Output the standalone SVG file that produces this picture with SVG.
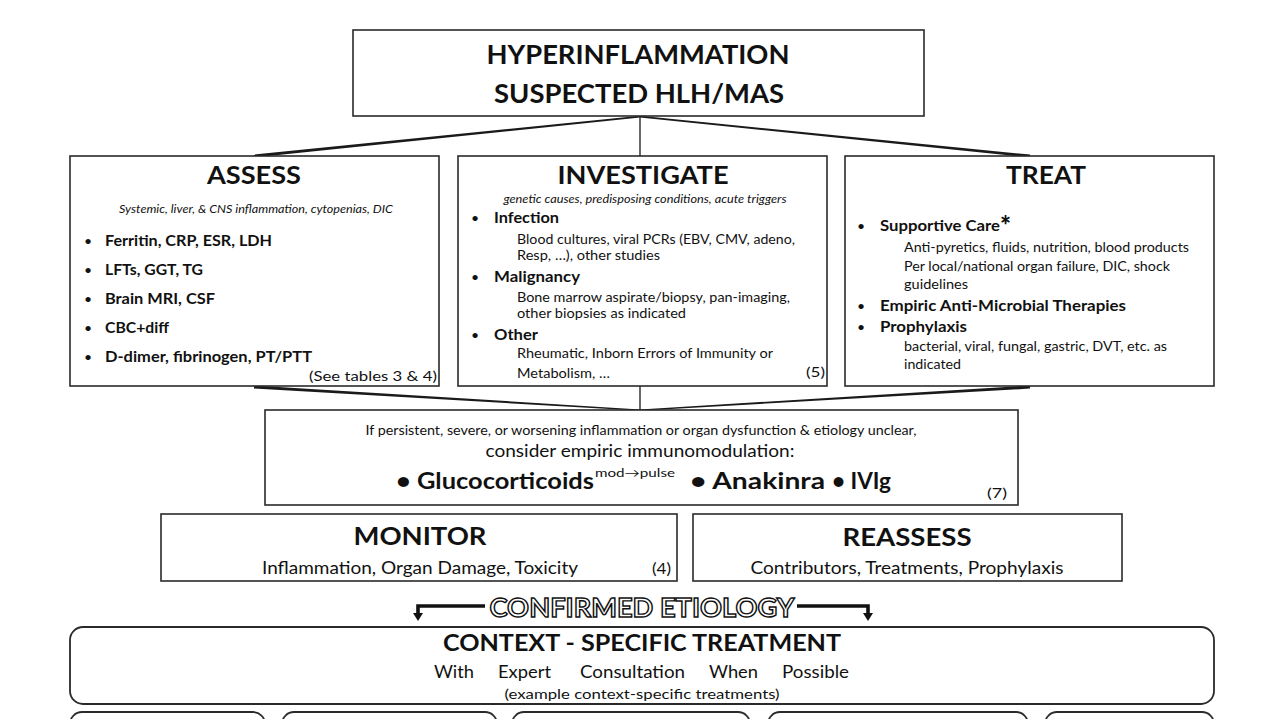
<svg xmlns="http://www.w3.org/2000/svg" width="1280" height="719" viewBox="0 0 1280 719">
<style>
text{font-family:Lato,"Open Sans","Liberation Sans",sans-serif;fill:#111}
.box{fill:#fff;stroke:#2a2a2a;stroke-width:1.6}
.rbox{fill:#fff;stroke:#2a2a2a;stroke-width:1.8}
.ttl{font-weight:700;font-size:25px;text-anchor:middle}
.big{font-weight:700;font-size:27px;text-anchor:middle}
.it{font-style:italic;font-size:10.5px;text-anchor:middle}
.b{font-weight:700;font-size:14.5px}
.r{font-size:13px}
.bul{font-size:14px}
.cond{text-anchor:middle}
.conn{fill:#1a1a1a;stroke:none}
.ln{stroke:#2a2a2a;stroke-width:1.4;fill:none}
.arr{stroke:#111;stroke-width:3.6;fill:none}
</style>
<defs>
<marker id="ah" markerWidth="10" markerHeight="10" refX="1" refY="5" orient="auto" markerUnits="userSpaceOnUse">
<path d="M0,0 L8,5 L0,10 z" fill="#111"/>
</marker>
</defs>
<rect width="1280" height="719" fill="#fff"/>

<g id="connectors">
<line class="ln" x1="640" y1="116" x2="640" y2="156"/>
<polygon class="conn" points="640,115.8 640,117.4 254,157.6 254,154.6"/>
<polygon class="conn" points="640,115.8 640,117.4 1030,157.6 1030,154.6"/>
<line class="ln" x1="640" y1="386" x2="640" y2="410"/>
<polygon class="conn" points="254,385.4 254,388.6 640,410.8 640,409.4"/>
<polygon class="conn" points="1030,385.4 1030,388.6 640,410.8 640,409.4"/>
<path class="arr" d="M485,606 H418 V614" marker-end="url(#ah)"/>
<path class="arr" d="M797,606 H868 V614" marker-end="url(#ah)"/>
</g>

<g id="top">
<rect class="box" x="353" y="30" width="571" height="86"/>
<text class="big" x="638" y="64" textLength="303" lengthAdjust="spacingAndGlyphs">HYPERINFLAMMATION</text>
<text class="big" x="639" y="103" textLength="290" lengthAdjust="spacingAndGlyphs">SUSPECTED HLH/MAS</text>
</g>

<g id="assess">
<rect class="box" x="70" y="156" width="369" height="230"/>
<text class="ttl" x="254" y="184" textLength="94" lengthAdjust="spacingAndGlyphs">ASSESS</text>
<text class="it" x="256" y="213" textLength="274" lengthAdjust="spacingAndGlyphs">Systemic, liver, &amp; CNS inflammation, cytopenias, DIC</text>
<text class="bul" x="84" y="246">•</text>
<text class="b" x="105" y="246" textLength="167" lengthAdjust="spacingAndGlyphs">Ferritin, CRP, ESR, LDH</text>
<text class="bul" x="84" y="275">•</text>
<text class="b" x="105" y="275" textLength="98" lengthAdjust="spacingAndGlyphs">LFTs, GGT, TG</text>
<text class="bul" x="84" y="304">•</text>
<text class="b" x="105" y="304" textLength="110" lengthAdjust="spacingAndGlyphs">Brain MRI, CSF</text>
<text class="bul" x="84" y="333">•</text>
<text class="b" x="105" y="333" textLength="64" lengthAdjust="spacingAndGlyphs">CBC+diff</text>
<text class="bul" x="84" y="362">•</text>
<text class="b" x="105" y="362" textLength="207" lengthAdjust="spacingAndGlyphs">D-dimer, fibrinogen, PT/PTT</text>
<text class="r" x="309" y="381" font-size="14" textLength="128" lengthAdjust="spacingAndGlyphs">(See tables 3 &amp; 4)</text>
</g>

<g id="investigate">
<rect class="box" x="458" y="156" width="369" height="230"/>
<text class="ttl" x="643" y="184" textLength="171" lengthAdjust="spacingAndGlyphs">INVESTIGATE</text>
<text class="it" x="645" y="203" textLength="283" lengthAdjust="spacingAndGlyphs">genetic causes, predisposing conditions, acute triggers</text>
<text class="bul" x="471" y="223">•</text>
<text class="b" x="494" y="223" textLength="65" lengthAdjust="spacingAndGlyphs">Infection</text>
<text class="r" x="517" y="244" textLength="278" lengthAdjust="spacingAndGlyphs">Blood cultures, viral PCRs (EBV, CMV, adeno,</text>
<text class="r" x="517" y="260" textLength="143" lengthAdjust="spacingAndGlyphs">Resp, …), other studies</text>
<text class="bul" x="471" y="282">•</text>
<text class="b" x="494" y="282" textLength="86" lengthAdjust="spacingAndGlyphs">Malignancy</text>
<text class="r" x="517" y="302" textLength="273" lengthAdjust="spacingAndGlyphs">Bone marrow aspirate/biopsy, pan-imaging,</text>
<text class="r" x="517" y="318" textLength="169" lengthAdjust="spacingAndGlyphs">other biopsies as indicated</text>
<text class="bul" x="471" y="340">•</text>
<text class="b" x="494" y="340" textLength="44" lengthAdjust="spacingAndGlyphs">Other</text>
<text class="r" x="517" y="358" textLength="256" lengthAdjust="spacingAndGlyphs">Rheumatic, Inborn Errors of Immunity or</text>
<text class="r" x="517" y="378" textLength="93" lengthAdjust="spacingAndGlyphs">Metabolism, …</text>
<text class="r" x="806" y="377" font-size="14" textLength="19" lengthAdjust="spacingAndGlyphs">(5)</text>
</g>

<g id="treat">
<rect class="box" x="845" y="156" width="369" height="230"/>
<text class="ttl" x="1046" y="184" textLength="80" lengthAdjust="spacingAndGlyphs">TREAT</text>
<text class="bul" x="857" y="231">•</text>
<text class="b" x="880" y="231" textLength="120" lengthAdjust="spacingAndGlyphs">Supportive Care</text>
<text x="1000" y="235" font-weight="900" font-size="26">*</text>
<text class="r" x="904" y="252" textLength="285" lengthAdjust="spacingAndGlyphs">Anti-pyretics, fluids, nutrition, blood products</text>
<text class="r" x="904" y="271" textLength="266" lengthAdjust="spacingAndGlyphs">Per local/national organ failure, DIC, shock</text>
<text class="r" x="904" y="289" textLength="64" lengthAdjust="spacingAndGlyphs">guidelines</text>
<text class="bul" x="857" y="311">•</text>
<text class="b" x="880" y="311" textLength="246" lengthAdjust="spacingAndGlyphs">Empiric Anti-Microbial Therapies</text>
<text class="bul" x="857" y="332">•</text>
<text class="b" x="880" y="332" textLength="87" lengthAdjust="spacingAndGlyphs">Prophylaxis</text>
<text class="r" x="904" y="351" textLength="263" lengthAdjust="spacingAndGlyphs">bacterial, viral, fungal, gastric, DVT, etc. as</text>
<text class="r" x="904" y="369" textLength="57" lengthAdjust="spacingAndGlyphs">indicated</text>
</g>

<g id="immunomodulation">
<rect class="box" x="265" y="410" width="753" height="95"/>
<text class="cond" x="641" y="435" font-size="13" textLength="551" lengthAdjust="spacingAndGlyphs">If persistent, severe, or worsening inflammation or organ dysfunction &amp; etiology unclear,</text>
<text class="cond" x="640" y="457" font-size="17" textLength="309" lengthAdjust="spacingAndGlyphs">consider empiric immunomodulation:</text>
<text x="396" y="489" font-size="23" font-weight="700" textLength="198" lengthAdjust="spacingAndGlyphs">• Glucocorticoids</text>
<text x="595" y="477" font-size="12" textLength="80" lengthAdjust="spacingAndGlyphs">mod→pulse</text>
<text x="690" y="489" font-size="23" font-weight="700" textLength="135" lengthAdjust="spacingAndGlyphs">• Anakinra</text>
<text x="832" y="489" font-size="23" font-weight="700" textLength="59" lengthAdjust="spacingAndGlyphs">• IVIg</text>
<text x="987" y="498" font-size="14" textLength="20" lengthAdjust="spacingAndGlyphs">(7)</text>
</g>

<g id="monitor">
<rect class="box" x="161" y="514" width="516" height="67"/>
<text class="ttl" x="420" y="545" textLength="133" lengthAdjust="spacingAndGlyphs">MONITOR</text>
<text x="262" y="574" font-size="17" textLength="316" lengthAdjust="spacingAndGlyphs">Inflammation, Organ Damage, Toxicity</text>
<text x="652" y="574" font-size="15" textLength="19" lengthAdjust="spacingAndGlyphs">(4)</text>
</g>

<g id="reassess">
<rect class="box" x="693" y="514" width="429" height="67"/>
<text class="ttl" x="907" y="546" textLength="129" lengthAdjust="spacingAndGlyphs">REASSESS</text>
<text class="cond" x="907" y="574" font-size="17" textLength="313" lengthAdjust="spacingAndGlyphs">Contributors, Treatments, Prophylaxis</text>
</g>

<g id="confirmed">
<text x="642" y="617" text-anchor="middle" font-size="26" font-weight="700" textLength="305" lengthAdjust="spacingAndGlyphs" style="fill:#fff;stroke:#111;stroke-width:1.4">CONFIRMED ETIOLOGY</text>
</g>

<g id="context">
<rect class="rbox" x="70" y="627" width="1144" height="77" rx="13"/>
<text class="cond" x="642" y="651" font-size="23" font-weight="700" textLength="398" lengthAdjust="spacingAndGlyphs">CONTEXT - SPECIFIC TREATMENT</text>
<text x="434" y="678" font-size="17" textLength="40" lengthAdjust="spacingAndGlyphs">With</text>
<text x="498" y="678" font-size="17" textLength="53" lengthAdjust="spacingAndGlyphs">Expert</text>
<text x="580" y="678" font-size="17" textLength="105" lengthAdjust="spacingAndGlyphs">Consultation</text>
<text x="709" y="678" font-size="17" textLength="49" lengthAdjust="spacingAndGlyphs">When</text>
<text x="782" y="678" font-size="17" textLength="67" lengthAdjust="spacingAndGlyphs">Possible</text>
<text class="cond" x="642" y="699" font-size="14" textLength="275" lengthAdjust="spacingAndGlyphs">(example context-specific treatments)</text>
</g>

<g id="examples">
<rect class="rbox" x="70" y="712" width="195" height="60" rx="12"/>
<rect class="rbox" x="282" y="712" width="215" height="60" rx="12"/>
<rect class="rbox" x="512" y="712" width="238" height="60" rx="12"/>
<rect class="rbox" x="768" y="712" width="260" height="60" rx="12"/>
<rect class="rbox" x="1045" y="712" width="169" height="60" rx="12"/>
</g>
</svg>
